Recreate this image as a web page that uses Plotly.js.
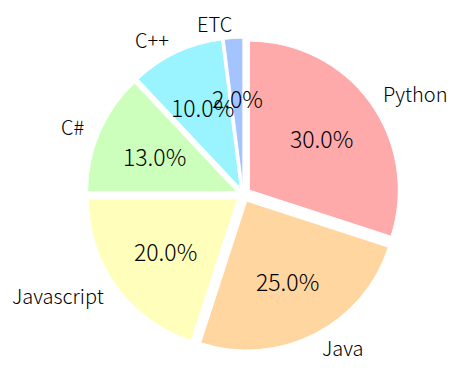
<!DOCTYPE html>
<html><head><meta charset="utf-8">
<script src="https://cdn.plot.ly/plotly-3.0.1.min.js"></script>
<style>html,body{margin:0;padding:0;background:#fff;}#chart{width:457px;height:389px;}</style>
</head><body><div id="chart"></div>
<script>
const labels = ['Python', 'Java', 'Javascript', 'C#', 'C++', 'ETC'];
const values = [30, 25, 20, 13, 10, 2];
const colors = ['#ffaaaa', '#ffd5a0', '#ffffbb', '#ccffbb', '#99f4ff', '#a3c4ff'];
const explode = [0.05, 0.05, 0.05, 0.05, 0.05, 0.05];

const W = 457, H = 389;
const family = 'Noto Sans CJK KR, Noto Sans, sans-serif';
const labelFont = {family: family, size: 20, color: '#000', weight: 300};
const pctFont = {family: family, size: 23, color: '#000', weight: 300};
const domain = {x: [0.190, 0.875], y: [0.098, 0.902]};

const pieTrace = {
  type: 'pie', labels: labels, values: values, sort: false, direction: 'clockwise', rotation: 0,
  pull: explode, domain: domain,
  marker: {colors: colors, line: {color: '#ffffff', width: 1}},
  textinfo: 'none', hoverinfo: 'none', showlegend: false
};

// Text placement like matplotlib: labels at 1.1 r, percentages at 0.6 r from the (exploded) slice centre.
const wPx = (domain.x[1] - domain.x[0]) * W, hPx = (domain.y[1] - domain.y[0]) * H;
const maxPull = Math.max(...explode);
const r = Math.min(wPx, hPx) / 2 / (1 + maxPull);
const cx = (domain.x[0] + domain.x[1]) / 2 * W;
const cy = (1 - (domain.y[0] + domain.y[1]) / 2) * H;
const total = values.reduce((a, b) => a + b, 0);
const annotations = [];
let cum = 0;
values.forEach((v, i) => {
  const mid = (cum + v / 2) / total * 2 * Math.PI; // clockwise from 12 o'clock
  cum += v;
  const dx = Math.sin(mid), dy = -Math.cos(mid);
  const ox = cx + explode[i] * r * dx, oy = cy + explode[i] * r * dy;
  const lx = ox + 1.1 * r * dx, ly = oy + 1.1 * r * dy;
  annotations.push({
    xref: 'paper', yref: 'paper', x: lx / W, y: 1 - ly / H, text: labels[i],
    showarrow: false, xanchor: dx >= 0 ? 'left' : 'right', yanchor: 'middle',
    font: labelFont, borderpad: 0
  });
  const px = ox + 0.6 * r * dx, py = oy + 0.6 * r * dy;
  annotations.push({
    xref: 'paper', yref: 'paper', x: px / W, y: 1 - py / H,
    text: (v / total * 100).toFixed(1) + '%',
    showarrow: false, xanchor: 'center', yanchor: 'middle',
    font: pctFont, borderpad: 0
  });
});

Plotly.newPlot('chart', [pieTrace], {
  width: W, height: H,
  margin: {l: 0, r: 0, t: 0, b: 0},
  paper_bgcolor: '#fff',
  annotations: annotations,
  showlegend: false
}, {staticPlot: true});
</script></body></html>
